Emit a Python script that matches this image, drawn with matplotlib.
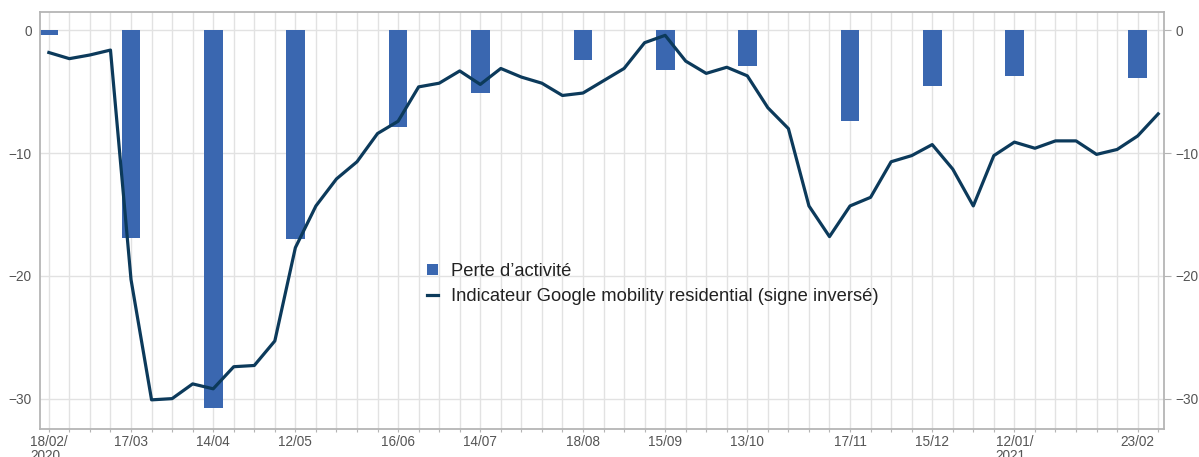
import matplotlib
matplotlib.use('Agg')
import matplotlib.pyplot as plt
import pandas as pd

plt.rcParams['font.family'] = ['Liberation Sans', 'DejaVu Sans']

# Semaines (mardi) de fevrier 2020 a mars 2021
semaines = pd.date_range('2020-02-18', periods=55, freq='7D')

# Indicateur Google mobility residential (signe inverse), par semaine
mobilite = [-1.8, -2.3, -2.0, -1.6, -20.3, -30.1, -30.0, -28.8, -29.2, -27.4,
            -27.3, -25.3, -17.7, -14.3, -12.1, -10.7, -8.4, -7.4, -4.6, -4.3,
            -3.3, -4.4, -3.1, -3.8, -4.3, -5.3, -5.1, -4.1, -3.1, -1.0,
            -0.4, -2.5, -3.5, -3.0, -3.7, -6.3, -8.0, -14.3, -16.8, -14.3,
            -13.6, -10.7, -10.2, -9.3, -11.3, -14.3, -10.2, -9.1, -9.6, -9.0,
            -9.0, -10.1, -9.7, -8.6, -6.8]

# Perte d'activite (points de conjoncture)
dates_perte = ['2020-02-18', '2020-03-17', '2020-04-14', '2020-05-12', '2020-06-16',
               '2020-07-14', '2020-08-18', '2020-09-15', '2020-10-13', '2020-11-17',
               '2020-12-15', '2021-01-12', '2021-02-23']
perte = [-0.35, -16.9, -30.8, -17.0, -7.9, -5.1, -2.4, -3.2, -2.9, -7.4, -4.5, -3.7, -3.9]

# libelles de l'axe des x
libelles = ['18/02/\n2020', '17/03', '14/04', '12/05', '16/06', '14/07', '18/08',
            '15/09', '13/10', '17/11', '15/12', '12/01/\n2021', '23/02']

dates_perte = pd.to_datetime(dates_perte)

fig = plt.figure(figsize=(11.99, 4.57), dpi=100)
ax = fig.add_axes([0.0334, 0.0606, 0.9377, 0.9131])

barres = ax.bar(dates_perte, perte, width=6.4, color='#3a67b0', label='Perte d\u2019activité', zorder=2)
ligne, = ax.plot(semaines, mobilite, color='#0c3a5b', lw=2.3, zorder=3,
                 label='Indicateur Google mobility residential (signe inversé)')

ax.set_xlim(semaines[0] - pd.Timedelta(days=3.0), semaines[-1] + pd.Timedelta(days=2.1))
ax.set_ylim(-32.5, 1.5)

# grille verticale a chaque semaine
ax.set_xticks(semaines)
labs = []
for d in semaines:
    if d in dates_perte:
        labs.append(libelles[list(dates_perte).index(d)])
    else:
        labs.append('')
ax.set_xticklabels(labs, fontsize=9.8, color='#555555', multialignment='left', linespacing=1.05)
ax.tick_params(axis='x', length=2.5, color='#b5b5b5', pad=1.5)

ax.set_yticks([0, -10, -20, -30])
ax.tick_params(axis='y', length=0, labelsize=9.8, labelcolor='#555555', pad=6)

ax.grid(True, color='#e2e2e2', lw=1, zorder=0)
ax.set_axisbelow(True)
for s in ax.spines.values():
    s.set_color('#b5b5b5')
    s.set_linewidth(1.3)

ax2 = ax.twinx()
ax2.set_ylim(ax.get_ylim())
ax2.set_yticks([0, -10, -20, -30])
ax2.tick_params(axis='y', length=5, color='#b5b5b5', labelsize=9.8, labelcolor='#555555', pad=3)
for s in ax2.spines.values():
    s.set_visible(False)

leg = ax.legend([barres, ligne], [barres.get_label(), ligne.get_label()],
                loc='center left', bbox_to_anchor=(0.3446, 0.348), frameon=False,
                fontsize=13.2, handlelength=0.55, handleheight=0.55, handletextpad=0.75,
                borderaxespad=0, borderpad=0, labelspacing=0.4)
for t in leg.get_texts():
    t.set_color('#222222')

fig.savefig('out.png', dpi=100)
